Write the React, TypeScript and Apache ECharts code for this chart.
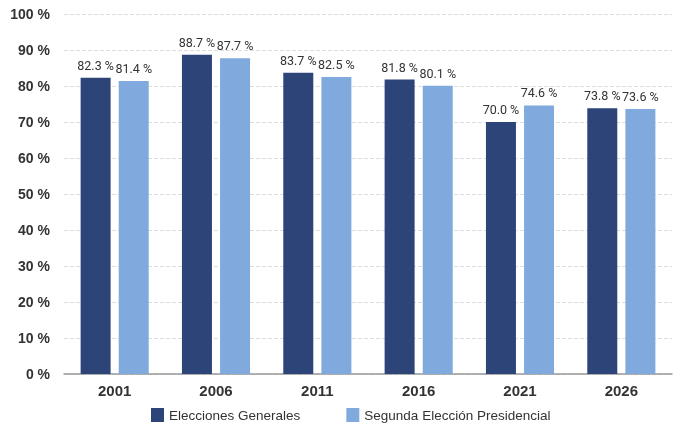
import React, { useEffect, useRef } from 'react';
import * as echarts from 'echarts';

const years = ['2001', '2006', '2011', '2016', '2021', '2026'];
const generales = [82.3, 88.7, 83.7, 81.8, 70.0, 73.8];
const segunda = [81.4, 87.7, 82.5, 80.1, 74.6, 73.6];

const sans = 'Liberation Sans, Arial, sans-serif';

const App: React.FC = () => {
    const chartRef = useRef<HTMLDivElement>(null);

    useEffect(() => {
        const chartDom = chartRef.current!;
        const myChart = echarts.init(chartDom, undefined, { renderer: 'svg' });

        const barLabel = {
            show: true,
            position: 'top' as const,
            distance: 6,
            color: '#333',
            fontSize: 12.5,
            fontFamily: 'Roboto, sans-serif',
            formatter: (p: any) => p.value.toFixed(1) + ' %',
        };

        const option: echarts.EChartsOption = {
            animation: false,
            grid: { left: 64, right: 8, top: 14, bottom: 59 },
            legend: {
                bottom: 6,
                left: 146,
                itemWidth: 13,
                itemHeight: 14,
                itemGap: 46,
                icon: 'rect',
                textStyle: { color: '#333', fontSize: 13.5, fontFamily: sans },
                data: ['Elecciones Generales', 'Segunda Elección Presidencial'],
            },
            xAxis: {
                type: 'category',
                data: years,
                axisLine: { lineStyle: { color: '#999', width: 1.5 } },
                axisTick: { show: false },
                axisLabel: {
                    color: '#333',
                    fontSize: 15,
                    fontWeight: 'bold',
                    fontFamily: sans,
                    margin: 9,
                },
            },
            yAxis: {
                type: 'value',
                min: 0,
                max: 100,
                interval: 10,
                axisLabel: {
                    formatter: '{value} %',
                    color: '#333',
                    fontSize: 14,
                    fontWeight: 'bold',
                    fontFamily: sans,
                    margin: 14,
                },
                splitLine: { lineStyle: { color: '#ddd', type: 'dashed' } },
            },
            series: [
                {
                    name: 'Elecciones Generales',
                    type: 'bar',
                    data: generales,
                    barWidth: 30,
                    barGap: '27%',
                    itemStyle: { color: '#2c4478' },
                    label: barLabel,
                },
                {
                    name: 'Segunda Elección Presidencial',
                    type: 'bar',
                    data: segunda,
                    barWidth: 30,
                    itemStyle: { color: '#80aadd' },
                    label: barLabel,
                },
            ],
        };

        myChart.setOption(option);

        return () => {
            myChart.dispose();
        };
    }, []);

    return <div ref={chartRef} style={{ width: 680, height: 433, position: 'fixed', left: 0, top: 0 }} />;
};

export default App;
